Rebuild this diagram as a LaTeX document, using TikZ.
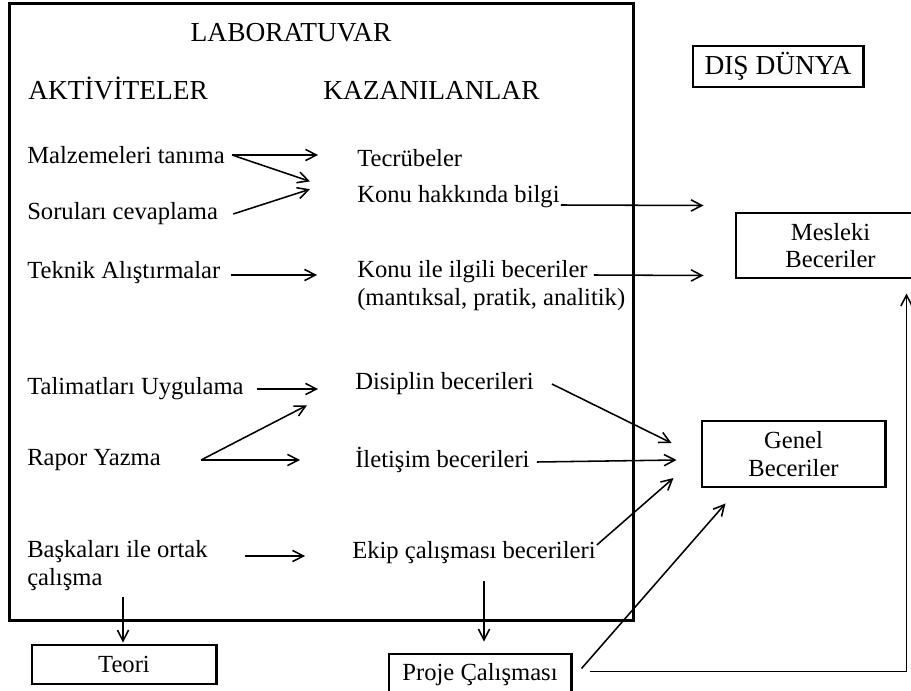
\documentclass[tikz,border=0pt]{standalone}
\usepackage{fontspec}
\setmainfont{Liberation Serif}
\usetikzlibrary{arrows.meta,calc,positioning}

\begin{document}
\begin{tikzpicture}[x=0.025cm, y=-0.025cm,
      frame/.style={draw, line width=2.1pt},
      box/.style={frame, align=center, inner sep=0pt, font=\fontsize{17.5}{19.5}\selectfont},
      txt/.style={anchor=west, inner sep=0pt, font=\fontsize{17.5}{19.5}\selectfont},
      head/.style={inner sep=0pt, anchor=base, font=\fontsize{19.5}{22}\selectfont},
      arr/.style={-{Straight Barb[length=2.7mm,width=2.8mm]}, line width=1.1pt}
    ]
    \useasboundingbox (0,0) rectangle (911,690);
    \clip (0,0) rectangle (911,690);

    % laboratory frame and headings
    \node[frame, minimum width=15.575cm, minimum height=15.4cm] (lab) at (321.5,312) {};
    \node[head] (labt) at (291,42) {LABORATUVAR};
    \node[head, anchor=base west] (akt) at (28,99) {AKTİVİTELER};
    \node[head, anchor=base west] (kaz) at (323,99) {KAZANILANLAR};

    % activities
    \node[txt] (malz) at (27,155) {Malzemeleri tanıma};
    \node[txt] (soru) at (27,214) {Soruları cevaplama};
    \node[txt] (teknik) at (27,273) {Teknik Alıştırmalar};
    \node[txt] (talim) at (27,389) {Talimatları Uygulama};
    \node[txt] (rapor) at (27,460) {Rapor Yazma};
    \node[txt] (bask) at (27,552) {Başkaları ile ortak};
    \node[txt] (bask2) at (27,580) {çalışma};

    % gains
    \node[txt] (tecr) at (357,158) {Tecrübeler};
    \node[txt] (konu) at (357,197) {Konu hakkında bilgi};
    \node[txt] (ilgili) at (357,272) {Konu ile ilgili beceriler};
    \node[txt] (ilgili2) at (357,300) {(mantıksal, pratik, analitik)};
    \node[txt] (disip) at (355,384) {Disiplin becerileri};
    \node[txt] (iletis) at (355,460) {İletişim becerileri};
    \node[txt] (ekip) at (352,553) {Ekip çalışması becerileri};

    % outside world
    \node[box, minimum width=4.25cm, minimum height=1.025cm, font=\fontsize{19.5}{22}\selectfont] (dis) at (778,66.5) {DIŞ DÜNYA};
    \node[box, minimum width=4.725cm, minimum height=1.625cm] (mesleki) at (830.5,245.5) {Mesleki\\Beceriler};
    \node[box, minimum width=4.575cm, minimum height=1.65cm] (genel) at (793.5,454) {Genel\\Beceriler};
    \node[box, minimum width=4.6cm, minimum height=0.975cm] (teori) at (124,664.5) {Teori};
    \node[box, minimum width=4.55cm, minimum height=1.025cm] (proje) at (480,674.5) {Proje Çalışması};

    % activities -> gains
    \draw[arr] ($(malz.east)+(7,0)$) -- ($(malz.east -| tecr.west)+(-39,0)$);
    \draw[arr] ($(malz.east)+(7,0)$) -- ($(tecr.west)!0.6!(konu.west)+(-47,0)$);
    \draw[arr] ($(soru.east)+(15,0)$) -- ($(tecr.west)!0.8!(konu.west)+(-47,0)$);
    \draw[arr] ($(teknik.east)+(10,2)$) -- ($(teknik.east -| ilgili.west)+(-40,2)$);
    \draw[arr] ($(talim.east)+(13,0)$) -- ($(talim.east -| disip.west)+(-37,0)$);
    \draw[arr] ($(rapor.east)+(40,0)$) -- ($(disip.west)!0.28!(iletis.west)+(-48,0)$);
    \draw[arr] ($(rapor.east)+(40,0)$) -- ($(rapor.east -| iletis.west)+(-55,0)$);
    \draw[arr] ($(bask.east)+(37,4)$) -- ($(bask.east -| ekip.west)+(-47,4)$);

    % gains -> skills
    \draw[arr] ($(konu.east)+(1,8)$) -- ($(mesleki.west)+(-31,-40)$);
    \draw[arr] ($(ilgili.east)+(6,3)$) -- ($(mesleki.west)+(-31,30)$);
    \draw[arr] ($(disip.east)+(18,0)$) -- ($(genel.west)+(-29,-11)$);
    \draw[arr] ($(iletis.east)+(7,2)$) -- ($(genel.west)+(-24,6)$);
    \draw[arr] ($(ekip.east)+(1,-8)$) -- ($(genel.west)+(-27,24)$);

    % down to theory and project
    \draw[arr] ($(bask2.south -| teori.north)+(-1,6)$) -- ($(teori.north)+(-1,-1)$);
    \draw[arr] ($(ekip.south -| proje.north)+(4,17)$) -- ($(proje.north)+(4,-11)$);
    \draw[arr] ($(proje.east)+(9,-6)$) -- ($(genel.south west)+(25,15)$);
    \draw[arr] ($(proje.east)+(17,-3)$) -| ($(mesleki.south west)+(172,14)$);
  \end{tikzpicture}
\end{document}
